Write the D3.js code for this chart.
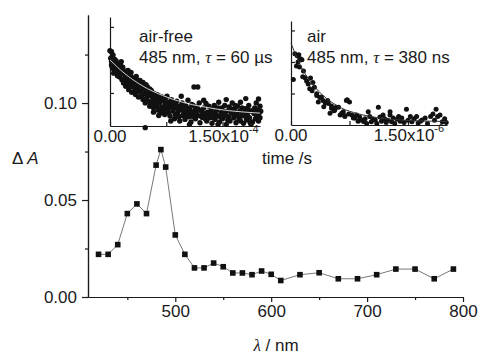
<!DOCTYPE html>
<html>
<head>
<meta charset="utf-8">
<script src="https://cdn.jsdelivr.net/npm/d3@7"></script>
<style>
  body { margin: 0; background: #fff; }
  svg { display: block; font-family: "Liberation Sans", Arial, sans-serif; }
  .axis path, .axis line { stroke: #1a1a1a; stroke-width: 1.2; }
  .axis text { fill: #1a1a1a; }
</style>
</head>
<body>
<svg id="chart" width="481" height="354"></svg>
<script>
// transient absorption spectrum (main plot)
const wavelengths = [420, 430, 440, 450, 460, 470, 480, 485, 490, 500, 510, 520, 530, 540, 550, 560, 570, 580, 590, 600, 610, 630, 650, 670, 690, 710, 730, 750, 770, 790];
const deltaA = [0.022, 0.022, 0.027, 0.043, 0.048, 0.043, 0.068, 0.076, 0.067, 0.032, 0.022, 0.015, 0.015, 0.0175, 0.0156, 0.0124, 0.0124, 0.0115, 0.0134, 0.0117, 0.0085, 0.0115, 0.0125, 0.0094, 0.0094, 0.0115, 0.0144, 0.0144, 0.0094, 0.0144];
const xMajorTicks = [500, 600, 700, 800];
const xMinorTicks = [450, 550, 650, 750];
const yMajorTicks = [0, 0.05, 0.10];
const yMinorTicks = [0.025, 0.075, 0.125];

// inset decays: [time, signal] (time in 1e-4 s for air-free, 1e-6 s for air; signal in tick units)
const airFreeDecay = [[0.00,2.28],[0.01,2.05],[0.02,2.25],[0.02,1.85],[0.03,2.10],[0.04,1.95],[0.05,1.72],[0.06,2.02],[0.07,1.80],[0.08,1.62],[0.09,1.90],[0.10,1.70],[0.11,1.55],[0.12,1.82],[0.13,1.48],[0.14,1.68],[0.15,1.75],[0.16,1.40],[0.17,1.58],[0.18,1.30],[0.19,1.62],[0.20,1.45],[0.21,1.20],[0.22,1.52],[0.23,1.35],[0.24,1.68],[0.25,1.10],[0.26,1.42],[0.27,1.28],[0.28,1.50],[0.29,1.02],[0.30,1.35],[0.31,1.18],[0.32,1.45],[0.33,1.25],[0.34,0.95],[0.35,1.30],[0.36,1.12],[0.37,1.38],[0.38,0.88],[0.39,1.20],[0.40,1.05],[0.41,1.28],[0.42,0.92],[0.43,1.15],[0.44,0.80],[0.45,1.22],[0.46,0.98],[0.47,0.70],[0.48,1.10],[0.49,0.86],[0.50,1.18],[0.51,0.75],[0.52,1.02],[0.53,0.60],[0.54,0.92],[0.55,1.08],[0.56,0.68],[0.57,0.85],[0.58,0.55],[0.59,0.98],[0.60,0.78],[0.62,0.62],[0.63,0.95],[0.64,0.48],[0.65,0.82],[0.66,0.70],[0.68,0.40],[0.69,0.88],[0.70,0.58],[0.72,0.75],[0.73,0.35],[0.74,0.65],[0.76,0.90],[0.77,0.50],[0.78,0.72],[0.80,0.30],[0.81,0.62],[0.82,0.80],[0.84,0.45],[0.85,0.68],[0.86,0.22],[0.88,0.55],[0.89,0.75],[0.90,0.38],[0.92,0.60],[0.93,0.15],[0.94,0.48],[0.96,0.70],[0.97,0.32],[0.98,0.55],[1.00,0.20],[1.01,0.62],[1.02,0.42],[1.04,0.78],[1.05,0.28],[1.06,0.52],[1.08,0.12],[1.09,0.65],[1.10,0.38],[1.12,1.18],[1.13,0.48],[1.14,0.22],[1.16,0.58],[1.17,0.32],[1.17,1.18],[1.19,0.70],[1.20,0.10],[1.22,0.45],[1.23,0.26],[1.25,0.55],[1.26,0.35],[1.28,0.68],[1.29,0.15],[1.30,0.42],[1.32,0.60],[1.33,0.25],[1.35,0.50],[1.36,0.08],[1.38,0.38],[1.39,0.62],[1.40,0.20],[1.42,0.48],[1.43,0.30],[1.45,0.72],[1.46,0.12],[1.48,0.40],[1.49,0.55],[1.50,0.22],[1.52,0.35],[1.53,0.62],[1.55,0.05],[1.56,0.45],[1.58,0.28],[1.59,0.58],[1.60,0.15],[1.62,0.40],[1.63,0.70],[1.65,0.25],[1.66,0.50],[1.68,0.10],[1.69,0.35],[1.70,0.60],[1.72,0.20],[1.73,0.45],[1.74,0.72],[1.75,0.30],[1.76,0.55],[1.78,0.08],[1.79,0.40],[1.81,0.83],[1.80,0.52],[1.82,0.18],[1.83,0.35],[1.85,0.62],[1.86,0.25],[1.88,0.45],[1.90,0.12],[1.92,0.38],[1.93,0.55],[1.94,0.22],[1.95,0.70],[1.96,0.30],[1.97,0.48],[1.98,0.82],[1.98,0.15],[1.99,0.40],[2.00,0.60],[2.00,0.25],[1.55,0.80],[1.25,0.78],[0.95,0.90],[0.15,1.95],[0.05,1.60],[0.03,1.78],[0.47,-0.05],
    [0.02,1.95],[0.04,2.15],[0.06,1.68],[0.08,1.98],[0.10,1.52],[0.12,1.62],[0.14,1.88],[0.17,1.78],[0.19,1.42],[0.21,1.66],[0.23,1.55],[0.26,1.22],[0.28,1.62],[0.31,1.40],[0.33,1.05],[0.35,1.50],[0.37,1.05],[0.40,1.38],[0.42,1.10],[0.44,1.32],[0.46,0.80],[0.48,1.25],[0.50,0.95],[0.53,1.12],[0.55,0.72],[0.57,1.00],[0.60,0.62],[0.61,0.92],[0.63,0.70],[0.66,0.90],[0.67,0.55],[0.70,0.80],[0.71,0.45],[0.74,0.85],[0.75,0.52],[0.78,0.40],[0.79,0.62],[0.83,0.55],[0.84,0.70],[0.87,0.35],[0.88,0.62],[0.91,0.50],[0.92,0.28],[0.95,0.58],[0.99,0.40],[1.03,0.30],[1.03,0.55],[1.07,0.42],[1.11,0.62],[1.11,0.28],[1.15,0.40],[1.18,0.50],[1.21,0.30],[1.24,0.40],[1.27,0.22],[1.31,0.32],[1.34,0.40],[1.37,0.25],[1.41,0.35],[1.44,0.55],[1.47,0.28],[1.51,0.45],[1.54,0.32],[1.57,0.18],[1.61,0.52],[1.64,0.38],[1.67,0.62],[1.71,0.30],[1.74,0.15],[1.77,0.42],[1.81,0.28],[1.84,0.50],[1.87,0.10],[1.91,0.48],[1.95,0.35],[1.99,0.25],[2.01,0.45],[1.06,0.05],[1.44,0.05],[1.88,0.05],[0.81,0.15],[0.65,0.32],[0.58,0.42]];
const airFreeFit = [[0,2.0],[0.1,1.78],[0.2,1.58],[0.3,1.41],[0.4,1.26],[0.5,1.13],[0.6,1.02],[0.8,0.84],[1.0,0.70],[1.2,0.60],[1.4,0.52],[1.6,0.46],[1.8,0.42],[2.0,0.39]];

const airDecay = [[0.03,1.44],[0.05,2.26],[0.08,2.20],[0.10,2.23],[0.12,2.10],[0.14,2.07],[0.07,1.87],[0.11,1.84],[0.09,2.00],[0.15,1.53],[0.16,1.71],[0.18,1.50],[0.20,1.40],[0.22,1.30],[0.25,1.49],[0.24,1.15],[0.27,1.09],[0.28,1.35],[0.30,1.20],[0.33,0.99],[0.33,0.94],[0.35,0.73],[0.37,0.87],[0.39,0.89],[0.41,0.78],[0.42,0.58],[0.44,0.70],[0.47,0.78],[0.48,0.68],[0.50,0.37],[0.52,0.53],[0.52,0.60],[0.55,0.45],[0.56,0.47],[0.58,0.56],[0.61,0.56],[0.63,0.32],[0.65,0.37],[0.67,0.42],[0.69,0.29],[0.69,0.27],[0.71,0.78],[0.72,0.80],[0.75,0.73],[0.74,0.35],[0.78,0.32],[0.80,0.22],[0.82,0.22],[0.84,0.32],[0.86,0.12],[0.88,0.25],[0.90,0.16],[0.93,0.11],[0.95,0.20],[0.97,0.05],[0.99,0.42],[1.01,0.27],[1.03,0.10],[1.05,0.18],[1.08,0.16],[1.10,0.05],[1.12,0.56],[1.14,0.25],[1.16,0.12],[1.18,0.32],[1.20,0.20],[1.22,0.08],[1.24,0.15],[1.27,0.32],[1.27,0.42],[1.29,0.10],[1.31,0.22],[1.33,0.05],[1.36,0.18],[1.38,0.27],[1.40,0.12],[1.42,0.22],[1.45,0.08],[1.48,0.50],[1.50,0.15],[1.53,0.27],[1.55,0.10],[1.58,0.20],[1.61,0.27],[1.63,0.06],[1.66,0.12],[1.68,0.16],[1.72,0.22],[1.75,0.05],[1.79,0.27],[1.82,0.35],[1.84,0.15],[1.86,0.50],[1.88,0.27],[1.91,0.32],[1.94,0.10],[1.97,0.20],[1.99,0.08]];
const airFit = [[0,2.6],[0.1,2.0],[0.2,1.55],[0.3,1.22],[0.4,0.96],[0.5,0.76],[0.6,0.60],[0.7,0.48],[0.8,0.40],[0.9,0.33],[1.0,0.28],[1.2,0.20],[1.4,0.16],[1.6,0.13],[1.8,0.12],[2.0,0.11]];

const svg = d3.select("#chart");

// main scales
const x = d3.scaleLinear().domain([409, 800]).range([88, 463]);
const y = d3.scaleLinear().domain([0, 0.1454]).range([297, 15]);

// minor ticks first, then major with labels
svg.append("g").attr("class", "axis")
    .attr("transform", "translate(0,297)")
    .call(d3.axisBottom(x).tickValues(xMinorTicks).tickSize(3).tickSizeOuter(0).tickFormat(""));
svg.append("g").attr("class", "axis")
    .attr("transform", "translate(0,297)")
    .call(d3.axisBottom(x).tickValues(xMajorTicks).tickSize(5).tickSizeOuter(0).tickPadding(3))
    .call(g => g.selectAll("text").attr("font-size", 17));

svg.append("g").attr("class", "axis")
    .attr("transform", "translate(88,0)")
    .call(d3.axisLeft(y).tickValues(yMinorTicks).tickSize(3).tickSizeOuter(0).tickFormat(""));
svg.append("g").attr("class", "axis")
    .attr("transform", "translate(88,0)")
    .call(d3.axisLeft(y).tickValues(yMajorTicks).tickSize(6).tickSizeOuter(0).tickPadding(5).tickFormat(d3.format(".2f")))
    .call(g => g.selectAll("text").attr("font-size", 17));

// axis titles
svg.append("text")
    .attr("x", 276).attr("y", 351)
    .attr("text-anchor", "middle")
    .attr("font-size", 17).attr("fill", "#1a1a1a")
    .call(t => t.append("tspan").attr("font-family", "Liberation Serif, serif").attr("font-style", "italic").text("λ"))
    .call(t => t.append("tspan").text(" / nm"));

svg.append("text")
    .attr("x", 12).attr("y", 164)
    .attr("font-size", 17).attr("fill", "#1a1a1a")
    .call(t => t.append("tspan").text("Δ "))
    .call(t => t.append("tspan").attr("font-style", "italic").text("A"));

// spectrum line and squares
const line = d3.line().x((d, i) => x(wavelengths[i])).y(d => y(d));
svg.append("path")
    .datum(deltaA)
    .attr("fill", "none")
    .attr("stroke", "#555")
    .attr("stroke-width", 0.8)
    .attr("d", line);

svg.append("g")
    .selectAll("rect")
    .data(deltaA)
    .join("rect")
    .attr("x", (d, i) => x(wavelengths[i]) - 2.8)
    .attr("y", d => y(d) - 2.8)
    .attr("width", 5.6)
    .attr("height", 5.6)
    .attr("fill", "#111");

// insets
function drawInset(cfg) {
    const ix = d3.scaleLinear().domain([0, 2.0]).range([cfg.left, cfg.right]);
    const iy = d3.scaleLinear().domain([0, 3.3]).range([cfg.bottom, cfg.top]);
    const g = svg.append("g");

    g.append("g").attr("class", "axis")
        .attr("transform", `translate(0,${cfg.bottom})`)
        .call(d3.axisBottom(ix).tickValues([0, 0.75, 1.5]).tickSize(-4).tickSizeOuter(0).tickFormat(""));
    g.append("g").attr("class", "axis")
        .attr("transform", `translate(${cfg.left},0)`)
        .call(d3.axisLeft(iy).tickValues([1, 2, 3]).tickSize(-4).tickSizeOuter(0).tickFormat(""));

    g.append("g")
        .selectAll("circle")
        .data(cfg.points)
        .join("circle")
        .attr("cx", d => ix(d[0]))
        .attr("cy", d => iy(d[1]))
        .attr("r", cfg.r)
        .attr("fill", "#111");

    g.append("path")
        .datum(cfg.fit)
        .attr("fill", "none")
        .attr("stroke", cfg.fitColor)
        .attr("stroke-width", cfg.fitWidth)
        .attr("d", d3.line().curve(d3.curveMonotoneX).x(d => ix(d[0])).y(d => iy(d[1])));

    // tick labels
    g.append("text")
        .attr("x", ix(0)).attr("y", cfg.bottom + 16)
        .attr("text-anchor", "middle").attr("font-size", 17).attr("fill", "#1a1a1a")
        .text("0.00");
    g.append("text")
        .attr("x", ix(1.5) + 1).attr("y", cfg.bottom + 16)
        .attr("text-anchor", "middle").attr("font-size", 17).attr("fill", "#1a1a1a")
        .call(t => t.append("tspan").text("1.50x10"))
        .call(t => t.append("tspan").attr("font-size", 11).attr("dy", -9).text(cfg.exp));

    // annotations
    g.append("text")
        .attr("x", cfg.noteX).attr("y", 42)
        .attr("font-size", 17).attr("fill", "#1a1a1a")
        .text(cfg.title);
    const l2 = g.append("text")
        .attr("x", cfg.noteX).attr("y", 63)
        .attr("font-size", 17).attr("fill", "#1a1a1a");
    l2.append("tspan").text("485 nm, ");
    l2.append("tspan").attr("font-family", "Liberation Serif, serif").attr("font-style", "italic").text("τ");
    l2.append("tspan").text(" = " + cfg.tau);
}

drawInset({left: 110, right: 260, top: 17, bottom: 126, points: airFreeDecay, fit: airFreeFit, r: 2.7,
    fitColor: "#fff", fitWidth: 0.8, exp: "-4", title: "air-free", tau: "60 µs", noteX: 139});
drawInset({left: 291, right: 447, top: 21, bottom: 125, points: airDecay, fit: airFit, r: 2.5,
    fitColor: "#333", fitWidth: 1, exp: "-6", title: "air", tau: "380 ns", noteX: 307});

svg.append("text")
    .attr("x", 287).attr("y", 164)
    .attr("text-anchor", "middle").attr("font-size", 17).attr("fill", "#1a1a1a")
    .text("time /s");
</script>
</body>
</html>
